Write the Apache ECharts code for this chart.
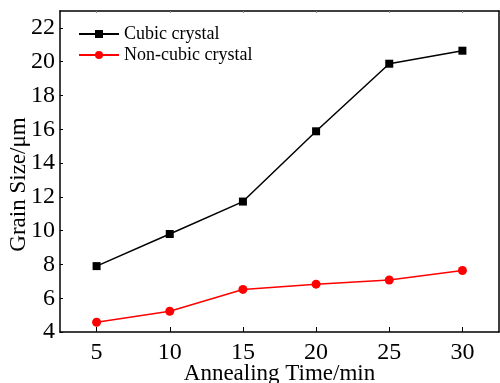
<!DOCTYPE html>
<html>
<head>
<meta charset="utf-8">
<script src="https://cdn.jsdelivr.net/npm/echarts@6/dist/echarts.min.js"></script>
<style>html,body{margin:0;padding:0;background:#fff}#c{width:500px;height:383px}</style>
</head>
<body>
<div id="c"></div>
<script>
var times = [5, 10, 15, 20, 25, 30];
var cubic = [7.9, 9.8, 11.72, 15.88, 19.88, 20.65];
var nonCubic = [4.58, 5.23, 6.52, 6.83, 7.08, 7.64];
var seriesNames = ['Cubic crystal', 'Non-cubic crystal'];
var xTitle = 'Annealing Time/min';
var yTitle = 'Grain Size/\u03bcm';
var yTicks = [4, 6, 8, 10, 12, 14, 16, 18, 20, 22];

var font = 'Liberation Serif, Times New Roman, serif';
function pairs(xs, ys) { return xs.map(function (x, i) { return [x, ys[i]]; }); }

var chart = echarts.init(document.getElementById('c'), null, { renderer: 'canvas' });
chart.setOption({
  animation: false,
  backgroundColor: '#fff',
  grid: { left: 60, right: 1, top: 11, bottom: 51, containLabel: false, outerBoundsMode: 'none' },
  legend: {
    orient: 'vertical', left: 73, top: 20, itemWidth: 40, itemHeight: 10, itemGap: 3,
    textStyle: { fontFamily: font, fontSize: 18, color: '#000', lineHeight: 18 },
    data: seriesNames
  },
  xAxis: [{
    type: 'value', min: 2.5, max: 32.5, interval: 5,
    axisLine: { lineStyle: { color: '#000', width: 1.5 } },
    axisTick: { inside: true, length: 5, lineStyle: { color: '#000', width: 1 }, customValues: times },
    axisLabel: { fontFamily: font, fontSize: 24, color: '#000', margin: 9, customValues: times },
    splitLine: { show: false },
    name: xTitle, nameLocation: 'middle', nameGap: 30, nameMoveOverlap: false,
    nameTextStyle: { fontFamily: font, fontSize: 23, color: '#000' }
  }, {
    type: 'value', position: 'top', min: 2.5, max: 32.5,
    axisLine: { show: true, onZero: false, lineStyle: { color: '#000', width: 1.5 } },
    axisTick: { show: true, inside: true, length: 2, lineStyle: { color: '#888' }, customValues: times },
    axisLabel: { show: false }, splitLine: { show: false }
  }],
  yAxis: [{
    type: 'value', min: 4, max: 23, interval: 2,
    axisLine: { show: true, lineStyle: { color: '#000', width: 1.5 } },
    axisTick: { show: true, inside: true, length: 3, lineStyle: { color: '#000' }, customValues: yTicks },
    axisLabel: { fontFamily: font, fontSize: 24, color: '#000', margin: 5, customValues: yTicks },
    splitLine: { show: false },
    name: yTitle, nameLocation: 'middle', nameGap: 30, nameRotate: 90, nameMoveOverlap: false,
    nameTextStyle: { fontFamily: font, fontSize: 23, color: '#000', padding: [0, 26, 0, 0] }
  }, {
    type: 'value', position: 'right', min: 4, max: 23,
    axisLine: { show: true, onZero: false, lineStyle: { color: '#000', width: 1.5 } },
    axisTick: { show: false }, axisLabel: { show: false }, splitLine: { show: false }
  }],
  series: [{
    name: seriesNames[0], type: 'line', data: pairs(times, cubic),
    symbol: 'rect', symbolSize: 8, color: '#000',
    lineStyle: { color: '#000', width: 1.5 }, itemStyle: { color: '#000' }
  }, {
    name: seriesNames[1], type: 'line', data: pairs(times, nonCubic),
    symbol: 'circle', symbolSize: 9, color: '#ff0000',
    lineStyle: { color: '#ff0000', width: 1.5 }, itemStyle: { color: '#ff0000' }
  }]
});
</script>
</body>
</html>
